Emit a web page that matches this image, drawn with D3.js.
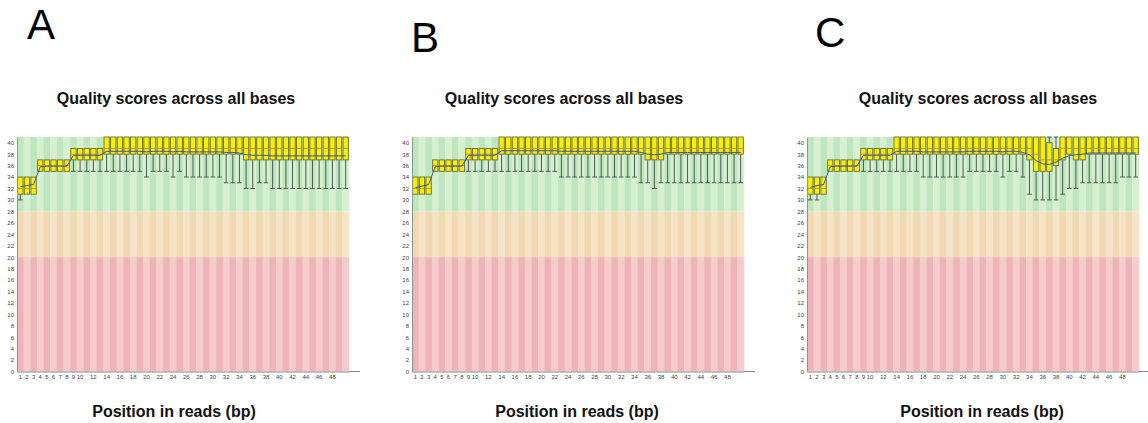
<!DOCTYPE html>
<html>
<head>
<meta charset="utf-8">
<script src="https://cdn.jsdelivr.net/npm/d3@7"></script>
<style>
  body { margin: 0; background: #fff; }
  svg { display: block; }
  text { font-family: "Liberation Sans", Arial, sans-serif; }
</style>
</head>
<body>
<svg id="fig" width="1148" height="423"></svg>
<script>
// ---- data -------------------------------------------------------------
const positions = [1,2,3,4,5,6,7,8,9,10,11,12,13,14,15,16,17,18,19,20,21,22,23,24,25,
                   26,27,28,29,30,31,32,33,34,35,36,37,38,39,40,41,42,43,44,45,46,47,48,49,50];
const xTickLabels = [1,2,3,4,5,6,7,8,9,10,12,14,16,18,20,22,24,26,28,30,32,34,36,38,40,42,44,46,48];
const yTickValues = [0,2,4,6,8,10,12,14,16,18,20,22,24,26,28,30,32,34,36,38,40];
const panelLetters = ["A", "B", "C"];
const chartTitle = "Quality scores across all bases";
const xAxisTitle = "Position in reads (bp)";
// quality zones on the Phred scale
const zoneNames = ["poor", "reasonable", "good"];
const zoneFrom  = [0, 20, 28];
const zoneTo    = [20, 28, 41];

// Sample A: 10th pct, lower quartile, median, upper quartile, 90th pct, mean
const aLow  = [30,31,31,35,35,35,35,35,35,35,35,35,35,35,35,35,35,35,35,34,35,35,35,34,35,
               34,34,34,34,34,34,33,33,33,32,32,33,33,32,32,32,32,32,32,32,32,32,32,32,32];
const aQ1   = [31,31,31,35,35,35,35,35,37,37,37,37,37,38,38,38,38,38,38,38,38,38,38,38,38,
               38,38,38,38,38,38,38,38,38,37,37,37,37,37,37,37,37,37,37,37,37,37,37,37,37];
const aMed  = [32,32,32,36,36,36,36,36,38,38,38,38,38,39,39,39,39,39,39,39,39,39,39,39,39,
               39,39,39,39,39,39,39,39,39,39,39,39,39,39,39,39,39,39,39,39,39,39,39,39,39];
const aQ3   = [34,34,34,37,37,37,37,37,39,39,39,39,39,41,41,41,41,41,41,41,41,41,41,41,41,
               41,41,41,41,41,41,41,41,41,41,41,41,41,41,41,41,41,41,41,41,41,41,41,41,41];
const aHigh = [34,34,34,37,37,37,37,37,39,39,39,39,39,41,41,41,41,41,41,41,41,41,41,41,41,
               41,41,41,41,41,41,41,41,41,41,41,41,41,41,41,41,41,41,41,41,41,41,41,41,41];
const aMean = [32.3,32.5,32.7,35.8,35.9,35.9,35.9,35.9,37.8,37.8,37.8,37.8,37.8,38.5,38.5,38.5,38.5,38.5,38.5,38.4,38.5,38.5,38.5,38.4,38.5,
               38.4,38.4,38.4,38.4,38.4,38.4,38.3,38.3,38.2,37.9,37.8,37.8,37.8,37.7,37.7,37.7,37.7,37.7,37.7,37.7,37.7,37.7,37.7,37.7,37.7];

// Sample B
const bLow  = [31,31,31,35,35,35,35,35,35,35,35,35,35,35,35,35,35,35,35,35,35,35,34,34,34,
               34,34,34,34,34,34,34,34,34,33,33,32,33,33,33,33,33,33,33,33,33,33,33,33,33];
const bQ1   = [31,31,31,35,35,35,35,35,37,37,37,37,37,38,38,38,38,38,38,38,38,38,38,38,38,
               38,38,38,38,38,38,38,38,38,38,37,37,37,38,38,38,38,38,38,38,38,38,38,38,38];
const bMed  = [32,32,32,36,36,36,36,36,38,38,38,38,38,39,39,39,39,39,39,39,39,39,39,39,39,
               39,39,39,39,39,39,39,39,39,39,39,39,39,39,39,39,39,39,39,39,39,39,39,39,39];
const bQ3   = [34,34,34,37,37,37,37,37,39,39,39,39,39,41,41,41,41,41,41,41,41,41,41,41,41,
               41,41,41,41,41,41,41,41,41,41,41,41,41,41,41,41,41,41,41,41,41,41,41,41,41];
const bHigh = [34,34,34,37,37,37,37,37,39,39,39,39,39,41,41,41,41,41,41,41,41,41,41,41,41,
               41,41,41,41,41,41,41,41,41,41,41,41,41,41,41,41,41,41,41,41,41,41,41,41,41];
const bMean = [32.1,32.4,32.7,35.8,35.9,35.9,35.9,35.9,37.8,37.8,37.8,37.8,37.8,38.6,38.6,38.6,38.6,38.6,38.6,38.6,38.6,38.6,38.5,38.5,38.5,
               38.5,38.5,38.5,38.5,38.5,38.5,38.5,38.5,38.5,38.3,38.0,37.9,38.0,38.3,38.3,38.3,38.3,38.3,38.3,38.3,38.3,38.3,38.3,38.3,38.3];

// Sample C
const cLow  = [30,30,31,35,35,35,35,35,35,35,35,35,35,35,35,35,35,34,34,34,34,34,34,34,35,
               35,35,35,35,34,35,35,34,31,30,30,30,30,31,32,32,33,33,33,33,33,33,34,34,34];
const cQ1   = [31,31,31,35,35,35,35,35,37,37,37,37,37,38,38,38,38,38,38,38,38,38,38,38,38,
               38,38,38,38,38,38,38,38,37,35,35,35,36,37,38,37,37,38,38,38,38,38,38,38,38];
const cMed  = [32,32,32,36,36,36,36,36,38,38,38,38,38,39,39,39,39,39,39,39,39,39,39,39,39,
               39,39,39,39,39,39,39,39,39,38,37,37,37,39,39,39,39,39,39,39,39,39,39,39,39];
const cQ3   = [34,34,34,37,37,37,37,37,39,39,39,39,39,41,41,41,41,41,41,41,41,41,41,41,41,
               41,41,41,41,41,41,41,41,41,41,41,40,39,41,41,41,41,41,41,41,41,41,41,41,41];
const cHigh = [34,34,34,37,37,37,37,37,39,39,39,39,39,41,41,41,41,41,41,41,41,41,41,41,41,
               41,41,41,41,41,41,41,41,41,41,41,41,41,41,41,41,41,41,41,41,41,41,41,41,41];
const cMean = [32.2,32.5,32.7,35.8,35.9,35.9,35.9,35.9,37.8,37.8,37.8,37.8,37.8,38.5,38.5,38.5,38.5,38.4,38.4,38.4,38.4,38.4,38.4,38.4,38.5,
               38.5,38.5,38.5,38.5,38.4,38.5,38.5,38.3,37.9,36.9,36.3,36.2,36.6,37.3,37.7,37.9,38.0,38.2,38.2,38.2,38.2,38.2,38.2,38.2,38.2];

const samples = [
  { low: aLow, q1: aQ1, med: aMed, q3: aQ3, high: aHigh, mean: aMean },
  { low: bLow, q1: bQ1, med: bMed, q3: bQ3, high: bHigh, mean: bMean },
  { low: cLow, q1: cQ1, med: cMed, q3: cQ3, high: cHigh, mean: cMean }
];

// ---- layout -----------------------------------------------------------
const plotTop = 137, plotBottom = 371.5, plotWidth = 332;
const panelLayout = [
  { left: 17,  titleX: 176, xTitleX: 174, letterX: 27,  letterY: 39 },
  { left: 412, titleX: 564, xTitleX: 577, letterX: 411, letterY: 52 },
  { left: 807, titleX: 978, xTitleX: 982, letterX: 815, letterY: 47 }
];
const zoneColors = {
  poor:       ["#efb3ba", "#f5cbcb"],
  reasonable: ["#f1d8b2", "#f6e4c7"],
  good:       ["#bfe7bf", "#d7f1d0"]
};

const svg = d3.select("#fig");

const x = d3.scaleBand().domain(positions).range([0, plotWidth]).padding(0);
const y = d3.scaleLinear().domain([0, 41]).range([plotBottom - plotTop, 0]);
const bw = x.bandwidth();

samples.forEach((s, k) => {
  const L = panelLayout[k];

  svg.append("text")
    .attr("x", L.letterX).attr("y", L.letterY)
    .attr("font-size", 42).attr("fill", "#000")
    .text(panelLetters[k]);

  svg.append("text")
    .attr("x", L.titleX).attr("y", 104)
    .attr("text-anchor", "middle")
    .attr("font-size", 16).attr("font-weight", "bold").attr("fill", "#111")
    .text(chartTitle);

  svg.append("text")
    .attr("x", L.xTitleX).attr("y", 417)
    .attr("text-anchor", "middle")
    .attr("font-size", 16).attr("font-weight", "bold").attr("fill", "#111")
    .text(xAxisTitle);

  const g = svg.append("g").attr("transform", `translate(${L.left},${plotTop})`);

  // striped quality zones
  zoneNames.forEach((z, zi) => {
    g.append("g").selectAll("rect")
      .data(positions)
      .join("rect")
      .attr("x", p => x(p))
      .attr("width", bw + 0.3)
      .attr("y", y(zoneTo[zi]))
      .attr("height", y(zoneFrom[zi]) - y(zoneTo[zi]))
      .attr("fill", (p, i) => zoneColors[z][i % 2]);
  });

  const rows = positions.map((p, i) => ({
    p, low: s.low[i], q1: s.q1[i], med: s.med[i], q3: s.q3[i], high: s.high[i], mean: s.mean[i]
  }));
  const cx = d => x(d.p) + bw / 2;

  // whiskers
  const wg = g.append("g").attr("stroke", "#4d5a52").attr("stroke-width", 1);
  rows.forEach(d => {
    if (d.low < d.q1) {
      wg.append("line").attr("x1", cx(d)).attr("x2", cx(d)).attr("y1", y(d.q1)).attr("y2", y(d.low));
      wg.append("line").attr("x1", cx(d) - bw * 0.35).attr("x2", cx(d) + bw * 0.35).attr("y1", y(d.low)).attr("y2", y(d.low));
    }
    if (d.high > d.q3) {
      wg.append("line").attr("x1", cx(d)).attr("x2", cx(d)).attr("y1", y(d.q3)).attr("y2", y(d.high));
      wg.append("line").attr("x1", cx(d) - bw * 0.35).attr("x2", cx(d) + bw * 0.35).attr("y1", y(d.high)).attr("y2", y(d.high));
    }
  });

  // interquartile boxes
  g.append("g").selectAll("rect")
    .data(rows)
    .join("rect")
    .attr("x", d => x(d.p) + bw * 0.1)
    .attr("width", bw * 0.8)
    .attr("y", d => y(d.q3))
    .attr("height", d => y(d.q1) - y(d.q3))
    .attr("fill", "#f7f000")
    .attr("stroke", "#6b6b3a")
    .attr("stroke-width", 0.9);

  // medians
  g.append("g").selectAll("line")
    .data(rows)
    .join("line")
    .attr("x1", d => x(d.p) + bw * 0.1)
    .attr("x2", d => x(d.p) + bw * 0.9)
    .attr("y1", d => y(d.med)).attr("y2", d => y(d.med))
    .attr("stroke", "#b8862a").attr("stroke-width", 0.8);

  // mean line
  g.append("path")
    .datum(rows)
    .attr("fill", "none")
    .attr("stroke", "#3d55a8")
    .attr("stroke-width", 1)
    .attr("d", d3.line().x(cx).y(d => y(d.mean)));

  // axes
  const yAxis = g.append("g")
    .call(d3.axisLeft(y).tickValues(yTickValues).tickSize(0).tickPadding(3));
  yAxis.select(".domain").attr("stroke", "#8a9a90");
  yAxis.selectAll("text").attr("font-size", 6).attr("fill", "#444");

  const xAxis = g.append("g")
    .attr("transform", `translate(0,${y(0)})`)
    .call(d3.axisBottom(x).tickValues(xTickLabels).tickSize(0).tickPadding(3));
  xAxis.select(".domain").attr("stroke", "#8a8a8a");
  xAxis.selectAll("text").attr("font-size", 6).attr("fill", "#444");
  xAxis.append("line")
    .attr("x1", plotWidth).attr("x2", plotWidth + 11)
    .attr("stroke", "#8a8a8a");
});
</script>
</body>
</html>
